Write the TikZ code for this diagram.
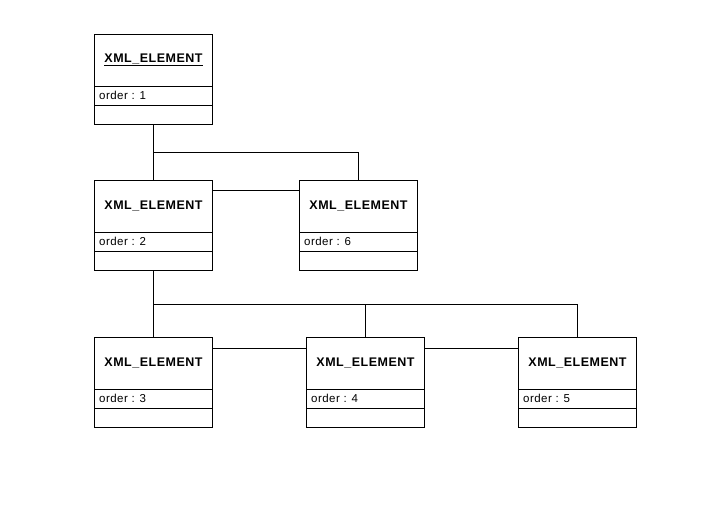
\documentclass[tikz,border=0pt]{standalone}
\usepackage{fontspec}
\setmainfont{Liberation Sans}[LetterSpace=4]
\usetikzlibrary{calc}

\tikzset{
  objbox/.style={draw, line width=1pt, minimum width=118pt, minimum height=90pt,
    inner sep=0pt, anchor=north west},
  objname/.style={font=\fontsize{12.5}{14}\selectfont\bfseries, inner sep=0pt},
  objattr/.style={font=\fontsize{11.5}{13}\selectfont, inner sep=0pt, anchor=west},
  link/.style={line width=1pt}
}

% one object box: name, top-left corner, title, order value
\newcommand{\xmlobj}[4]{
  \node[objbox] (#1) at (#2) {};
  \node[objname] (#1t) at ($(#1.north)+(0,26)$) {#3};
  \draw[link] ($(#1.north west)+(0,52)$) -- ($(#1.north east)+(0,52)$);
  \draw[link] ($(#1.north west)+(0,71)$) -- ($(#1.north east)+(0,71)$);
  \node[objattr] (#1a) at ($(#1.north west)+(5,61.5)$) {order : #4};
}

\begin{document}
\begin{tikzpicture}[x=1pt,y=-1pt]
  \useasboundingbox[fill=white] (0,0) rectangle (706,525);

  \xmlobj{e1}{94,34}{\underline{XML\_ELEMENT}}{1}
  \xmlobj{e2}{94,180}{XML\_ELEMENT}{2}
  \xmlobj{e6}{299,180}{XML\_ELEMENT}{6}
  \xmlobj{e3}{94,337}{XML\_ELEMENT}{3}
  \xmlobj{e4}{306,337}{XML\_ELEMENT}{4}
  \xmlobj{e5}{518,337}{XML\_ELEMENT}{5}

  % tree links
  \coordinate (j1) at ($(e1.south)!0.5!(e2.north)$);
  \coordinate (j2) at ($(e2.south)!0.5!(e3.north)$);
  \draw[link] (e1.south) -- (e2.north);
  \draw[link] (j1) -| (e6.north);
  \draw[link] (e2.south) -- (e3.north);
  \draw[link] (j2) -| (e4.north);
  \draw[link] (j2) -| (e5.north);

  % sibling links
  \draw[link] ([yshift=-10pt]e2.north east) -- ([yshift=-10pt]e6.north west);
  \draw[link] ([yshift=-11pt]e3.north east) -- ([yshift=-11pt]e4.north west);
  \draw[link] ([yshift=-11pt]e4.north east) -- ([yshift=-11pt]e5.north west);
\end{tikzpicture}
\end{document}
